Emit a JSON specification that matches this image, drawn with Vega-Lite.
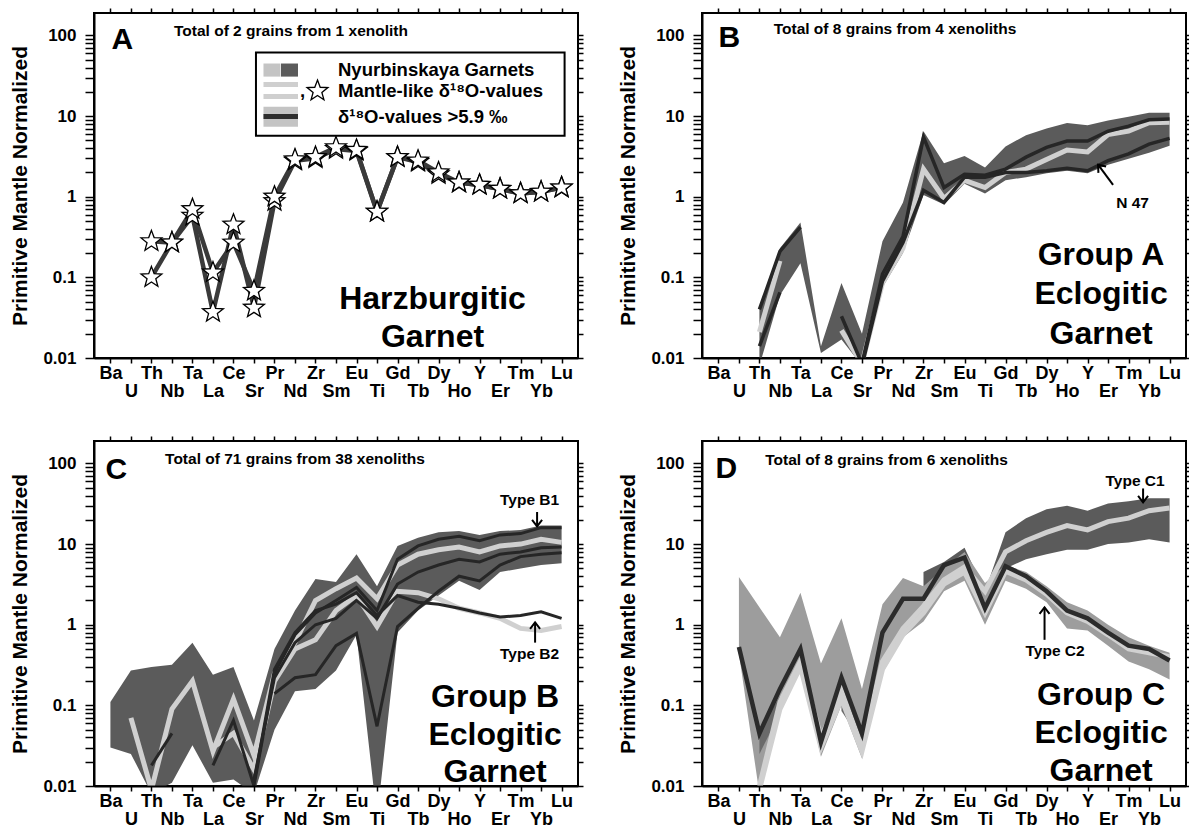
{
"$schema": "https://vega.github.io/schema/vega-lite/v6.json",
"padding": {"left": 8, "top": 6, "right": 0, "bottom": 0},
"config": {
 "font": "Liberation Sans",
 "view": {"stroke": "#000", "strokeWidth": 2},
 "axis": {"labelFont": "Liberation Sans", "labelFontWeight": "bold", "labelFontSize": 17, "labelColor": "#000", "titleFont": "Liberation Sans", "titleFontWeight": "bold", "titleFontSize": 21, "titleColor": "#000", "domainColor": "#000", "domainWidth": 2, "tickColor": "#000", "tickWidth": 1.5, "grid": false},
 "text": {"font": "Liberation Sans", "fontWeight": "bold", "color": "#000"}
},
"datasets": {
 "A_lines": [
  {"g":"A1","el":"Th","v":0.1},{"g":"A1","el":"Nb","v":0.27},{"g":"A1","el":"Ta","v":0.58},{"g":"A1","el":"La","v":0.037},{"g":"A1","el":"Ce","v":0.45},{"g":"A1","el":"Sr","v":0.042},{"g":"A1","el":"Pr","v":0.88},{"g":"A1","el":"Nd","v":2.8},{"g":"A1","el":"Zr","v":3.0},{"g":"A1","el":"Sm","v":3.9},{"g":"A1","el":"Eu","v":3.7},{"g":"A1","el":"Ti","v":0.65},{"g":"A1","el":"Gd","v":3.1},{"g":"A1","el":"Tb","v":2.7},{"g":"A1","el":"Dy","v":1.9},{"g":"A1","el":"Ho","v":1.5},{"g":"A1","el":"Y","v":1.4},{"g":"A1","el":"Er","v":1.25},{"g":"A1","el":"Tm","v":1.1},{"g":"A1","el":"Yb","v":1.15},{"g":"A1","el":"Lu","v":1.3},
  {"g":"A2","el":"Th","v":0.28},{"g":"A2","el":"Nb","v":0.27},{"g":"A2","el":"Ta","v":0.7},{"g":"A2","el":"La","v":0.115},{"g":"A2","el":"Ce","v":0.27},{"g":"A2","el":"Sr","v":0.068},{"g":"A2","el":"Pr","v":1.0},{"g":"A2","el":"Nd","v":2.9},{"g":"A2","el":"Zr","v":3.1},{"g":"A2","el":"Sm","v":4.1},{"g":"A2","el":"Eu","v":3.8},{"g":"A2","el":"Ti","v":0.65},{"g":"A2","el":"Gd","v":3.1},{"g":"A2","el":"Tb","v":2.8},{"g":"A2","el":"Dy","v":2.0},{"g":"A2","el":"Ho","v":1.5},{"g":"A2","el":"Y","v":1.4},{"g":"A2","el":"Er","v":1.25},{"g":"A2","el":"Tm","v":1.1},{"g":"A2","el":"Yb","v":1.15},{"g":"A2","el":"Lu","v":1.3}
 ],
 "A_leg": [
  {"k":"box","el":"Sr","el2":"Lu","v":61.5,"v2":5.7},
  {"k":"sqL","el":"Pr","el2":"Pr","v":44.9,"v2":30.9},
  {"k":"sqD","el":"Nd","el2":"Nd","v":44.9,"v2":30.9},
  {"k":"ln","el":"Pr","el2":"Nd","v":24.6},
  {"k":"ln","el":"Pr","el2":"Nd","v":17.5},
  {"k":"band","el":"Pr","el2":"Nd","v":13.1,"v2":7.4},
  {"k":"lnD","el":"Pr","el2":"Nd","v":9.86},
  {"k":"star","el":"Zr","v":20.5}
 ],
 "A_ann": [
  {"k":"letter","el":"Ba","v":87,"t":"A"},
  {"k":"title","el":"Nd","v":115,"t":"Total of 2 grains from 1 xenolith"},
  {"k":"group","el":"Dy","v":0.0545,"t":"Harzburgitic"},
  {"k":"group","el":"Dy","v":0.0184,"t":"Garnet"},
  {"k":"leg","el":"Sm","v":37.8,"t":"Nyurbinskaya Garnets"},
  {"k":"leg","el":"Sm","v":20.5,"t":"Mantle-like δ¹⁸O-values"},
  {"k":"leg","el":"Sm","v":9.7,"t":"δ¹⁸O-values >5.9 ‰"},
  {"k":"comma","el":"Zr","v":20.5,"t":","}
 ],
 "B_bands": [
  {"g":"env","el":"Th","lo":0.008,"v":0.042},{"g":"env","el":"Nb","lo":0.06,"v":0.23},{"g":"env","el":"Ta","lo":0.15,"v":0.48},{"g":"env","el":"La","lo":0.0115,"v":0.014},{"g":"env","el":"Ce","lo":0.017,"v":0.085},{"g":"env","el":"Sr","lo":0.008,"v":0.02},{"g":"env","el":"Pr","lo":0.075,"v":0.28},{"g":"env","el":"Nd","lo":0.2,"v":0.85},{"g":"env","el":"Zr","lo":1.05,"v":6.5},{"g":"env","el":"Sm","lo":0.8,"v":2.6},{"g":"env","el":"Eu","lo":1.45,"v":3.2},{"g":"env","el":"Ti","lo":1.1,"v":2.3},{"g":"env","el":"Gd","lo":1.6,"v":4.2},{"g":"env","el":"Tb","lo":1.75,"v":5.8},{"g":"env","el":"Dy","lo":1.95,"v":7.0},{"g":"env","el":"Ho","lo":2.1,"v":8.2},{"g":"env","el":"Y","lo":1.95,"v":7.7},{"g":"env","el":"Er","lo":2.5,"v":8.8},{"g":"env","el":"Tm","lo":2.95,"v":9.8},{"g":"env","el":"Yb","lo":3.5,"v":11},{"g":"env","el":"Lu","lo":4.3,"v":11}
 ],
 "B_lines": [
  {"g":"m1a","o":"mantle","el":"Th","v":0.021},{"g":"m1a","o":"mantle","el":"Nb","v":0.16},
  {"g":"m1b","o":"mantle","el":"Ce","v":0.022},{"g":"m1b","o":"mantle","el":"Sr","v":0.0085},{"g":"m1b","o":"mantle","el":"Pr","v":0.085},{"g":"m1b","o":"mantle","el":"Nd","v":0.23},{"g":"m1b","o":"mantle","el":"Zr","v":2.2},{"g":"m1b","o":"mantle","el":"Sm","v":0.95},{"g":"m1b","o":"mantle","el":"Eu","v":1.6},{"g":"m1b","o":"mantle","el":"Ti","v":1.3},{"g":"m1b","o":"mantle","el":"Gd","v":2.0},{"g":"m1b","o":"mantle","el":"Tb","v":2.2},{"g":"m1b","o":"mantle","el":"Dy","v":2.9},{"g":"m1b","o":"mantle","el":"Ho","v":3.8},{"g":"m1b","o":"mantle","el":"Y","v":3.6},{"g":"m1b","o":"mantle","el":"Er","v":5.9},{"g":"m1b","o":"mantle","el":"Tm","v":6.5},{"g":"m1b","o":"mantle","el":"Yb","v":8.3},{"g":"m1b","o":"mantle","el":"Lu","v":8.4},
  {"g":"e1a","o":"high","el":"Th","v":0.04},{"g":"e1a","o":"high","el":"Nb","v":0.21},{"g":"e1a","o":"high","el":"Ta","v":0.42},
  {"g":"e1b","o":"high","el":"Ce","v":0.033},{"g":"e1b","o":"high","el":"Sr","v":0.0085},{"g":"e1b","o":"high","el":"Pr","v":0.11},{"g":"e1b","o":"high","el":"Nd","v":0.32},{"g":"e1b","o":"high","el":"Zr","v":5.5},{"g":"e1b","o":"high","el":"Sm","v":1.3},{"g":"e1b","o":"high","el":"Eu","v":1.9},{"g":"e1b","o":"high","el":"Ti","v":1.85},{"g":"e1b","o":"high","el":"Gd","v":2.2},{"g":"e1b","o":"high","el":"Tb","v":3.1},{"g":"e1b","o":"high","el":"Dy","v":4.1},{"g":"e1b","o":"high","el":"Ho","v":4.9},{"g":"e1b","o":"high","el":"Y","v":4.9},{"g":"e1b","o":"high","el":"Er","v":6.5},{"g":"e1b","o":"high","el":"Tm","v":7.5},{"g":"e1b","o":"high","el":"Yb","v":9.0},{"g":"e1b","o":"high","el":"Lu","v":9.2},
  {"g":"n47a","o":"high","el":"Th","v":0.014},{"g":"n47a","o":"high","el":"Nb","v":0.065},
  {"g":"n47b","o":"high","el":"Sr","v":0.008},{"g":"n47b","o":"high","el":"Pr","v":0.09},{"g":"n47b","o":"high","el":"Nd","v":0.27},{"g":"n47b","o":"high","el":"Zr","v":1.2},{"g":"n47b","o":"high","el":"Sm","v":0.85},{"g":"n47b","o":"high","el":"Eu","v":1.75},{"g":"n47b","o":"high","el":"Ti","v":1.75},{"g":"n47b","o":"high","el":"Gd","v":2.0},{"g":"n47b","o":"high","el":"Tb","v":2.0},{"g":"n47b","o":"high","el":"Dy","v":2.1},{"g":"n47b","o":"high","el":"Ho","v":2.25},{"g":"n47b","o":"high","el":"Y","v":2.1},{"g":"n47b","o":"high","el":"Er","v":2.8},{"g":"n47b","o":"high","el":"Tm","v":3.4},{"g":"n47b","o":"high","el":"Yb","v":4.5},{"g":"n47b","o":"high","el":"Lu","v":5.3}
 ],
 "B_ann": [
  {"k":"letter","el":"Ba","v":94,"t":"B"},
  {"k":"title","el":"Nd","v":119,"t":"Total of 8 grains from 4 xenoliths"},
  {"k":"group","el":"Er","v":0.19,"t":"Group A"},
  {"k":"group","el":"Er","v":0.0623,"t":"Eclogitic"},
  {"k":"group","el":"Er","v":0.0199,"t":"Garnet"},
  {"k":"label","el":"Tm","v":0.84,"t":"N 47"},
  {"k":"shaft","el":"Er","el2":"Er","v":1.4,"v2":2.5},
  {"k":"head","el":"Er","v":2.5}
 ],
 "C_bands": [
  {"g":"env","el":"Ba","lo":0.03,"v":0.11},{"g":"env","el":"U","lo":0.025,"v":0.27},{"g":"env","el":"Th","lo":0.008,"v":0.3},{"g":"env","el":"Nb","lo":0.011,"v":0.32},{"g":"env","el":"Ta","lo":0.032,"v":0.6},{"g":"env","el":"La","lo":0.011,"v":0.24},{"g":"env","el":"Ce","lo":0.012,"v":0.3},{"g":"env","el":"Sr","lo":0.008,"v":0.065},{"g":"env","el":"Pr","lo":0.05,"v":0.5},{"g":"env","el":"Nd","lo":0.15,"v":1.5},{"g":"env","el":"Zr","lo":0.16,"v":3.7},{"g":"env","el":"Sm","lo":0.27,"v":3.4},{"g":"env","el":"Eu","lo":0.75,"v":7.5},{"g":"env","el":"Ti","lo":0.004,"v":3.0},{"g":"env","el":"Gd","lo":0.8,"v":9.5},{"g":"env","el":"Tb","lo":1.5,"v":12},{"g":"env","el":"Dy","lo":2.3,"v":14},{"g":"env","el":"Ho","lo":3.5,"v":14.5},{"g":"env","el":"Y","lo":2.7,"v":13},{"g":"env","el":"Er","lo":4.5,"v":14.5},{"g":"env","el":"Tm","lo":5.0,"v":15},{"g":"env","el":"Yb","lo":5.5,"v":17},{"g":"env","el":"Lu","lo":5.8,"v":17}
 ],
 "C_lines": [
  {"g":"m1","o":"mantle","el":"U","v":0.07},{"g":"m1","o":"mantle","el":"Th","v":0.009},{"g":"m1","o":"mantle","el":"Nb","v":0.09},{"g":"m1","o":"mantle","el":"Ta","v":0.2},{"g":"m1","o":"mantle","el":"La","v":0.027},{"g":"m1","o":"mantle","el":"Ce","v":0.12},{"g":"m1","o":"mantle","el":"Sr","v":0.024},{"g":"m1","o":"mantle","el":"Pr","v":0.25},{"g":"m1","o":"mantle","el":"Nd","v":0.6},{"g":"m1","o":"mantle","el":"Zr","v":2.0},{"g":"m1","o":"mantle","el":"Sm","v":2.8},{"g":"m1","o":"mantle","el":"Eu","v":3.8},{"g":"m1","o":"mantle","el":"Ti","v":2.1},{"g":"m1","o":"mantle","el":"Gd","v":5.5},{"g":"m1","o":"mantle","el":"Tb","v":7.5},{"g":"m1","o":"mantle","el":"Dy","v":8.5},{"g":"m1","o":"mantle","el":"Ho","v":9.2},{"g":"m1","o":"mantle","el":"Y","v":8.0},{"g":"m1","o":"mantle","el":"Er","v":9.5},{"g":"m1","o":"mantle","el":"Tm","v":10},{"g":"m1","o":"mantle","el":"Yb","v":11.5},{"g":"m1","o":"mantle","el":"Lu","v":10.5},
  {"g":"m2","o":"mantle","el":"La","v":0.03},{"g":"m2","o":"mantle","el":"Ce","v":0.045},{"g":"m2","o":"mantle","el":"Sr","v":0.016},{"g":"m2","o":"mantle","el":"Pr","v":0.2},{"g":"m2","o":"mantle","el":"Nd","v":0.5},{"g":"m2","o":"mantle","el":"Zr","v":0.65},{"g":"m2","o":"mantle","el":"Sm","v":1.5},{"g":"m2","o":"mantle","el":"Eu","v":2.3},{"g":"m2","o":"mantle","el":"Ti","v":0.95},{"g":"m2","o":"mantle","el":"Gd","v":2.6},{"g":"m2","o":"mantle","el":"Tb","v":2.5},{"g":"m2","o":"mantle","el":"Dy","v":2.1},{"g":"m2","o":"mantle","el":"Ho","v":1.6},{"g":"m2","o":"mantle","el":"Y","v":1.4},{"g":"m2","o":"mantle","el":"Er","v":1.2},{"g":"m2","o":"mantle","el":"Tm","v":0.9},{"g":"m2","o":"mantle","el":"Yb","v":0.85},{"g":"m2","o":"mantle","el":"Lu","v":0.95},
  {"g":"e1","o":"high","el":"La","v":0.018},{"g":"e1","o":"high","el":"Ce","v":0.065},{"g":"e1","o":"high","el":"Sr","v":0.01},{"g":"e1","o":"high","el":"Pr","v":0.25},{"g":"e1","o":"high","el":"Nd","v":0.75},{"g":"e1","o":"high","el":"Zr","v":1.4},{"g":"e1","o":"high","el":"Sm","v":2.0},{"g":"e1","o":"high","el":"Eu","v":2.9},{"g":"e1","o":"high","el":"Ti","v":1.5},{"g":"e1","o":"high","el":"Gd","v":6.5},{"g":"e1","o":"high","el":"Tb","v":9.5},{"g":"e1","o":"high","el":"Dy","v":11.5},{"g":"e1","o":"high","el":"Ho","v":12.5},{"g":"e1","o":"high","el":"Y","v":11},{"g":"e1","o":"high","el":"Er","v":13},{"g":"e1","o":"high","el":"Tm","v":13.5},{"g":"e1","o":"high","el":"Yb","v":16},{"g":"e1","o":"high","el":"Lu","v":16},
  {"g":"e2","o":"high","el":"Sr","v":0.012},{"g":"e2","o":"high","el":"Pr","v":0.22},{"g":"e2","o":"high","el":"Nd","v":0.6},{"g":"e2","o":"high","el":"Zr","v":1.0},{"g":"e2","o":"high","el":"Sm","v":1.2},{"g":"e2","o":"high","el":"Eu","v":2.0},{"g":"e2","o":"high","el":"Ti","v":1.2},{"g":"e2","o":"high","el":"Gd","v":3.2},{"g":"e2","o":"high","el":"Tb","v":4.5},{"g":"e2","o":"high","el":"Dy","v":5.5},{"g":"e2","o":"high","el":"Ho","v":6.5},{"g":"e2","o":"high","el":"Y","v":6.0},{"g":"e2","o":"high","el":"Er","v":7.5},{"g":"e2","o":"high","el":"Tm","v":8.0},{"g":"e2","o":"high","el":"Yb","v":9.0},{"g":"e2","o":"high","el":"Lu","v":9.2},
  {"g":"e3","o":"high","el":"Pr","v":0.14},{"g":"e3","o":"high","el":"Nd","v":0.22},{"g":"e3","o":"high","el":"Zr","v":0.24},{"g":"e3","o":"high","el":"Sm","v":0.55},{"g":"e3","o":"high","el":"Eu","v":0.78},{"g":"e3","o":"high","el":"Ti","v":0.055},{"g":"e3","o":"high","el":"Gd","v":0.95},{"g":"e3","o":"high","el":"Tb","v":1.6},{"g":"e3","o":"high","el":"Dy","v":2.6},{"g":"e3","o":"high","el":"Ho","v":4.0},{"g":"e3","o":"high","el":"Y","v":3.5},{"g":"e3","o":"high","el":"Er","v":5.5},{"g":"e3","o":"high","el":"Tm","v":7.0},{"g":"e3","o":"high","el":"Yb","v":7.5},{"g":"e3","o":"high","el":"Lu","v":7.8},
  {"g":"e4","o":"high","el":"Sr","v":0.011},{"g":"e4","o":"high","el":"Pr","v":0.28},{"g":"e4","o":"high","el":"Nd","v":0.8},{"g":"e4","o":"high","el":"Zr","v":1.5},{"g":"e4","o":"high","el":"Sm","v":1.8},{"g":"e4","o":"high","el":"Eu","v":2.5},{"g":"e4","o":"high","el":"Ti","v":1.3},{"g":"e4","o":"high","el":"Gd","v":2.3},{"g":"e4","o":"high","el":"Tb","v":1.9},{"g":"e4","o":"high","el":"Dy","v":1.8},{"g":"e4","o":"high","el":"Ho","v":1.6},{"g":"e4","o":"high","el":"Y","v":1.4},{"g":"e4","o":"high","el":"Er","v":1.25},{"g":"e4","o":"high","el":"Tm","v":1.3},{"g":"e4","o":"high","el":"Yb","v":1.45},{"g":"e4","o":"high","el":"Lu","v":1.2},
  {"g":"e5","o":"high","el":"Th","v":0.018},{"g":"e5","o":"high","el":"Nb","v":0.045}
 ],
 "C_ann": [
  {"k":"letter","el":"Ba","v":82,"t":"C"},
  {"k":"title","el":"Nd","v":115,"t":"Total of 71 grains from 38 xenoliths"},
  {"k":"group","el":"Er","v":0.126,"t":"Group B"},
  {"k":"group","el":"Er","v":0.043,"t":"Eclogitic"},
  {"k":"group","el":"Er","v":0.0148,"t":"Garnet"},
  {"k":"label","el":"Tm","v":34.8,"t":"Type B1"},
  {"k":"label","el":"Tm","v":0.43,"t":"Type B2"},
  {"k":"shaftD","el":"Yb","v":25,"v2":16.6},
  {"k":"headD","el":"Yb","v":16.6},
  {"k":"shaftU","el":"Yb","v":0.6,"v2":1.07},
  {"k":"headU","el":"Yb","v":1.07}
 ],
 "D_bands": [
  {"g":"C1","el":"Zr","lo":1.3,"v":4.5},{"g":"C1","el":"Sm","lo":3.0,"v":6.0},{"g":"C1","el":"Eu","lo":4.0,"v":9.0},{"g":"C1","el":"Ti","lo":1.5,"v":2.6},{"g":"C1","el":"Gd","lo":5.0,"v":14},{"g":"C1","el":"Tb","lo":6.5,"v":21},{"g":"C1","el":"Dy","lo":7.5,"v":27},{"g":"C1","el":"Ho","lo":8.5,"v":30},{"g":"C1","el":"Y","lo":8.5,"v":26},{"g":"C1","el":"Er","lo":10,"v":32},{"g":"C1","el":"Tm","lo":10.5,"v":34},{"g":"C1","el":"Yb","lo":11.5,"v":37},{"g":"C1","el":"Lu","lo":10.5,"v":37},
  {"g":"C2","el":"U","lo":0.44,"v":3.9},{"g":"C2","el":"Th","lo":0.008,"v":1.65},{"g":"C2","el":"Nb","lo":0.08,"v":0.7},{"g":"C2","el":"Ta","lo":0.3,"v":2.5},{"g":"C2","el":"La","lo":0.023,"v":0.33},{"g":"C2","el":"Ce","lo":0.1,"v":1.2},{"g":"C2","el":"Sr","lo":0.022,"v":0.16},{"g":"C2","el":"Pr","lo":0.25,"v":1.8},{"g":"C2","el":"Nd","lo":0.7,"v":3.8},{"g":"C2","el":"Zr","lo":1.1,"v":3.0},{"g":"C2","el":"Sm","lo":2.6,"v":5.0},{"g":"C2","el":"Eu","lo":3.5,"v":8.0},{"g":"C2","el":"Ti","lo":1.0,"v":3.3},{"g":"C2","el":"Gd","lo":3.5,"v":5.5},{"g":"C2","el":"Tb","lo":2.8,"v":4.5},{"g":"C2","el":"Dy","lo":1.9,"v":3.0},{"g":"C2","el":"Ho","lo":0.9,"v":1.9},{"g":"C2","el":"Y","lo":0.85,"v":1.5},{"g":"C2","el":"Er","lo":0.55,"v":1.0},{"g":"C2","el":"Tm","lo":0.35,"v":0.7},{"g":"C2","el":"Yb","lo":0.28,"v":0.55},{"g":"C2","el":"Lu","lo":0.21,"v":0.45},
  {"g":"C1a","el":"Th","lo":0.025,"v":0.05},{"g":"C1a","el":"Nb","lo":0.08,"v":0.13},
  {"g":"C1b","el":"Ce","lo":0.085,"v":0.13},{"g":"C1b","el":"Sr","lo":0.035,"v":0.055}
 ],
 "D_lines": [
  {"g":"m1","o":"mantle","el":"Th","v":0.01},{"g":"m1","o":"mantle","el":"Nb","v":0.11},{"g":"m1","o":"mantle","el":"Ta","v":0.35},{"g":"m1","o":"mantle","el":"La","v":0.04},{"g":"m1","o":"mantle","el":"Ce","v":0.15},{"g":"m1","o":"mantle","el":"Sr","v":0.03},{"g":"m1","o":"mantle","el":"Pr","v":0.35},{"g":"m1","o":"mantle","el":"Nd","v":0.9},{"g":"m1","o":"mantle","el":"Zr","v":1.7},{"g":"m1","o":"mantle","el":"Sm","v":3.6},{"g":"m1","o":"mantle","el":"Eu","v":5.2},{"g":"m1","o":"mantle","el":"Ti","v":2.6},{"g":"m1","o":"mantle","el":"Gd","v":8.0},{"g":"m1","o":"mantle","el":"Tb","v":11},{"g":"m1","o":"mantle","el":"Dy","v":14},{"g":"m1","o":"mantle","el":"Ho","v":17},{"g":"m1","o":"mantle","el":"Y","v":15},{"g":"m1","o":"mantle","el":"Er","v":19},{"g":"m1","o":"mantle","el":"Tm","v":21},{"g":"m1","o":"mantle","el":"Yb","v":26},{"g":"m1","o":"mantle","el":"Lu","v":28},
  {"g":"m2","o":"mantle","el":"Th","v":0.009},{"g":"m2","o":"mantle","el":"Nb","v":0.09},{"g":"m2","o":"mantle","el":"Ta","v":0.3},{"g":"m2","o":"mantle","el":"La","v":0.03},{"g":"m2","o":"mantle","el":"Ce","v":0.12},{"g":"m2","o":"mantle","el":"Sr","v":0.027},{"g":"m2","o":"mantle","el":"Pr","v":0.28},{"g":"m2","o":"mantle","el":"Nd","v":0.75},{"g":"m2","o":"mantle","el":"Zr","v":1.4},{"g":"m2","o":"mantle","el":"Sm","v":3.2},{"g":"m2","o":"mantle","el":"Eu","v":4.5},{"g":"m2","o":"mantle","el":"Ti","v":1.4},{"g":"m2","o":"mantle","el":"Gd","v":4.6},{"g":"m2","o":"mantle","el":"Tb","v":3.6},{"g":"m2","o":"mantle","el":"Dy","v":2.4},{"g":"m2","o":"mantle","el":"Ho","v":1.4},{"g":"m2","o":"mantle","el":"Y","v":1.1},{"g":"m2","o":"mantle","el":"Er","v":0.75},{"g":"m2","o":"mantle","el":"Tm","v":0.5},{"g":"m2","o":"mantle","el":"Yb","v":0.45},{"g":"m2","o":"mantle","el":"Lu","v":0.4},
  {"g":"e1","o":"high","el":"U","v":0.53},{"g":"e1","o":"high","el":"Th","v":0.045},{"g":"e1","o":"high","el":"Nb","v":0.16},{"g":"e1","o":"high","el":"Ta","v":0.5},{"g":"e1","o":"high","el":"La","v":0.035},{"g":"e1","o":"high","el":"Ce","v":0.22},{"g":"e1","o":"high","el":"Sr","v":0.045},{"g":"e1","o":"high","el":"Pr","v":0.8},{"g":"e1","o":"high","el":"Nd","v":2.1},{"g":"e1","o":"high","el":"Zr","v":2.1},{"g":"e1","o":"high","el":"Sm","v":5.5},{"g":"e1","o":"high","el":"Eu","v":6.8},{"g":"e1","o":"high","el":"Ti","v":1.6},{"g":"e1","o":"high","el":"Gd","v":5.3},{"g":"e1","o":"high","el":"Tb","v":4.0},{"g":"e1","o":"high","el":"Dy","v":2.6},{"g":"e1","o":"high","el":"Ho","v":1.5},{"g":"e1","o":"high","el":"Y","v":1.2},{"g":"e1","o":"high","el":"Er","v":0.8},{"g":"e1","o":"high","el":"Tm","v":0.55},{"g":"e1","o":"high","el":"Yb","v":0.5},{"g":"e1","o":"high","el":"Lu","v":0.36}
 ],
 "D_ann": [
  {"k":"letter","el":"Ba","v":86,"t":"D"},
  {"k":"title","el":"Pr","v":111,"t":"Total of 8 grains from 6 xenoliths"},
  {"k":"group","el":"Er","v":0.135,"t":"Group C"},
  {"k":"group","el":"Er","v":0.046,"t":"Eclogitic"},
  {"k":"group","el":"Er","v":0.0155,"t":"Garnet"},
  {"k":"labelC1","el":"Yb","v":61,"t":"Type C1"},
  {"k":"labelC2","el":"Ho","v":0.47,"t":"Type C2"},
  {"k":"shaftD","el":"Yb","v":49,"v2":33},
  {"k":"headD","el":"Yb","v":33},
  {"k":"shaftU","el":"Dy","v":0.65,"v2":1.64},
  {"k":"headU","el":"Dy","v":1.64}
 ]
},
"columns": 2,
"spacing": {"row": 83, "column": 124},
"bounds": "flush",
"concat": [
 {
  "width": 484, "height": 345,
  "encoding": {
   "x": {"field": "el", "type": "ordinal", "scale": {"type": "point", "domain": ["Ba","U","Th","Nb","Ta","La","Ce","Sr","Pr","Nd","Zr","Sm","Eu","Ti","Gd","Tb","Dy","Ho","Y","Er","Tm","Yb","Lu"], "padding": 0.8}, "axis": null},
   "y": {"field": "v", "type": "quantitative", "scale": {"type": "log", "domain": [0.01, 190], "nice": false}, "axis": null}
  },
  "layer": [
   {"data": {"name": "A_lines"}, "mark": {"type": "line", "color": "#3a3a3a", "strokeWidth": 4.5, "clip": true},
    "encoding": {
     "x": {"field": "el", "type": "ordinal", "scale": {"type": "point", "domain": ["Ba","U","Th","Nb","Ta","La","Ce","Sr","Pr","Nd","Zr","Sm","Eu","Ti","Gd","Tb","Dy","Ho","Y","Er","Tm","Yb","Lu"], "padding": 0.8}, "axis": {"orient": "bottom", "title": null, "labelAngle": 0, "labelFontSize": 18, "labelExpr": "indexof(['U','Nb','La','Sr','Nd','Sm','Ti','Tb','Ho','Er','Yb'], datum.value) >= 0 ? ['', datum.value] : datum.value", "labelLineHeight": 18, "labelPadding": 1, "tickSize": 5, "labelOverlap": false, "zindex": 1}},
     "y": {"field": "v", "type": "quantitative", "scale": {"type": "log", "domain": [0.01, 190], "nice": false}, "axis": {"orient": "left", "title": "Primitive Mantle Normalized", "values": [0.01,0.02,0.03,0.04,0.05,0.06,0.07,0.08,0.09,0.1,0.2,0.3,0.4,0.5,0.6,0.7,0.8,0.9,1,2,3,4,5,6,7,8,9,10,20,30,40,50,60,70,80,90,100], "labelExpr": "indexof([0.01,0.1,1,10,100], datum.value) >= 0 ? '' + datum.value : ''", "tickSize": 9, "labelPadding": 9, "labelOverlap": false, "labelFlush": false, "titlePadding": 12, "encode": {"ticks": {"update": {"x2": {"signal": "indexof([0.01,0.1,1,10,100], datum.value) >= 0 ? -9 : -6"}}}}, "zindex": 1}},
     "detail": {"field": "g"}, "order": {"value": null}}},
   {"data": {"name": "A_lines"}, "mark": {"type": "point", "shape": "M0,-1L0.247,-0.34L0.951,-0.309L0.4,0.13L0.588,0.809L0,0.42L-0.588,0.809L-0.4,0.13L-0.951,-0.309L-0.247,-0.34Z", "size": 480, "filled": true, "fill": "#fff", "stroke": "#000", "strokeWidth": 1.3, "opacity": 1},
    "encoding": {
     "x": {"field": "el", "type": "ordinal", "scale": {"type": "point", "domain": ["Ba","U","Th","Nb","Ta","La","Ce","Sr","Pr","Nd","Zr","Sm","Eu","Ti","Gd","Tb","Dy","Ho","Y","Er","Tm","Yb","Lu"], "padding": 0.8}, "axis": {"orient": "top", "title": null, "labels": false, "domain": false, "tickSize": 5, "encode": {"ticks": {"update": {"y2": {"value": 5}}}}, "zindex": 1}},
     "y": {"field": "v", "type": "quantitative", "scale": {"type": "log", "domain": [0.01, 190], "nice": false}, "axis": {"orient": "right", "title": null, "labels": false, "domain": false, "values": [0.01,0.02,0.03,0.04,0.05,0.06,0.07,0.08,0.09,0.1,0.2,0.3,0.4,0.5,0.6,0.7,0.8,0.9,1,2,3,4,5,6,7,8,9,10,20,30,40,50,60,70,80,90,100], "encode": {"ticks": {"update": {"x2": {"signal": "indexof([0.01,0.1,1,10,100], datum.value) >= 0 ? -7 : -4"}}}}, "zindex": 1}}}},
   {"data": {"name": "A_leg"}, "transform": [{"filter": "datum.k == 'box'"}], "mark": {"type": "rect", "fill": "#fff", "stroke": "#000", "strokeWidth": 2, "xOffset": 2, "x2Offset": 3}, "encoding": {"x2": {"field": "el2"}, "y2": {"field": "v2"}}},
   {"data": {"name": "A_leg"}, "transform": [{"filter": "datum.k == 'sqL'"}], "mark": {"type": "rect", "fill": "#c4c4c4", "xOffset": -11, "x2Offset": 6}, "encoding": {"x2": {"field": "el2"}, "y2": {"field": "v2"}}},
   {"data": {"name": "A_leg"}, "transform": [{"filter": "datum.k == 'sqD'"}], "mark": {"type": "rect", "fill": "#5b5b5b", "xOffset": -14, "x2Offset": 3}, "encoding": {"x2": {"field": "el2"}, "y2": {"field": "v2"}}},
   {"data": {"name": "A_leg"}, "transform": [{"filter": "datum.k == 'band'"}], "mark": {"type": "rect", "fill": "#c4c4c4", "xOffset": -11, "x2Offset": 3}, "encoding": {"x2": {"field": "el2"}, "y2": {"field": "v2"}}},
   {"data": {"name": "A_leg"}, "transform": [{"filter": "datum.k == 'ln'"}], "mark": {"type": "rule", "color": "#cfcfcf", "strokeWidth": 5, "xOffset": -11, "x2Offset": 3}, "encoding": {"x2": {"field": "el2"}}},
   {"data": {"name": "A_leg"}, "transform": [{"filter": "datum.k == 'lnD'"}], "mark": {"type": "rule", "color": "#2e2e2e", "strokeWidth": 5, "xOffset": -11, "x2Offset": 3}, "encoding": {"x2": {"field": "el2"}}},
   {"data": {"name": "A_leg"}, "transform": [{"filter": "datum.k == 'star'"}], "mark": {"type": "point", "shape": "M0,-1L0.247,-0.34L0.951,-0.309L0.4,0.13L0.588,0.809L0,0.42L-0.588,0.809L-0.4,0.13L-0.951,-0.309L-0.247,-0.34Z", "size": 480, "filled": true, "fill": "#fff", "stroke": "#000", "strokeWidth": 1.3, "opacity": 1, "xOffset": 2}, "encoding": {}},
   {"data": {"name": "A_ann"}, "transform": [{"filter": "datum.k == 'letter'"}], "mark": {"type": "text", "fontSize": 30, "dx": 12, "align": "center", "baseline": "middle"}, "encoding": {"text": {"field": "t"}}},
   {"data": {"name": "A_ann"}, "transform": [{"filter": "datum.k == 'title'"}], "mark": {"type": "text", "fontSize": 15.5, "dx": -4, "align": "center", "baseline": "middle"}, "encoding": {"text": {"field": "t"}}},
   {"data": {"name": "A_ann"}, "transform": [{"filter": "datum.k == 'group'"}], "mark": {"type": "text", "fontSize": 32, "dx": -6, "align": "center", "baseline": "middle"}, "encoding": {"text": {"field": "t"}}},
   {"data": {"name": "A_ann"}, "transform": [{"filter": "datum.k == 'leg'"}], "mark": {"type": "text", "fontSize": 18.5, "dx": 2, "align": "left", "baseline": "middle"}, "encoding": {"text": {"field": "t"}}},
   {"data": {"name": "A_ann"}, "transform": [{"filter": "datum.k == 'comma'"}], "mark": {"type": "text", "fontSize": 18.5, "dx": -13, "align": "center", "baseline": "middle"}, "encoding": {"text": {"field": "t"}}}
  ],
  "resolve": {"axis": {"x": "independent", "y": "independent"}}
 },
 {
  "width": 484, "height": 345,
  "encoding": {
   "x": {"field": "el", "type": "ordinal", "scale": {"type": "point", "domain": ["Ba","U","Th","Nb","Ta","La","Ce","Sr","Pr","Nd","Zr","Sm","Eu","Ti","Gd","Tb","Dy","Ho","Y","Er","Tm","Yb","Lu"], "padding": 0.8}, "axis": null},
   "y": {"field": "v", "type": "quantitative", "scale": {"type": "log", "domain": [0.01, 190], "nice": false}, "axis": null}
  },
  "layer": [
   {"data": {"name": "B_bands"}, "mark": {"type": "area", "color": "#5b5b5b", "clip": true, "opacity": 1},
    "encoding": {
     "x": {"field": "el", "type": "ordinal", "scale": {"type": "point", "domain": ["Ba","U","Th","Nb","Ta","La","Ce","Sr","Pr","Nd","Zr","Sm","Eu","Ti","Gd","Tb","Dy","Ho","Y","Er","Tm","Yb","Lu"], "padding": 0.8}, "axis": {"orient": "bottom", "title": null, "labelAngle": 0, "labelFontSize": 18, "labelExpr": "indexof(['U','Nb','La','Sr','Nd','Sm','Ti','Tb','Ho','Er','Yb'], datum.value) >= 0 ? ['', datum.value] : datum.value", "labelLineHeight": 18, "labelPadding": 1, "tickSize": 5, "labelOverlap": false, "zindex": 1}},
     "y": {"field": "v", "type": "quantitative", "scale": {"type": "log", "domain": [0.01, 190], "nice": false}, "axis": {"orient": "left", "title": "Primitive Mantle Normalized", "values": [0.01,0.02,0.03,0.04,0.05,0.06,0.07,0.08,0.09,0.1,0.2,0.3,0.4,0.5,0.6,0.7,0.8,0.9,1,2,3,4,5,6,7,8,9,10,20,30,40,50,60,70,80,90,100], "labelExpr": "indexof([0.01,0.1,1,10,100], datum.value) >= 0 ? '' + datum.value : ''", "tickSize": 9, "labelPadding": 9, "labelOverlap": false, "labelFlush": false, "titlePadding": 12, "encode": {"ticks": {"update": {"x2": {"signal": "indexof([0.01,0.1,1,10,100], datum.value) >= 0 ? -9 : -6"}}}}, "zindex": 1}},
     "y2": {"field": "lo"}, "detail": {"field": "g"}, "order": {"value": null}}},
   {"data": {"name": "B_lines"}, "transform": [{"filter": "datum.o == 'mantle'"}], "mark": {"type": "line", "color": "#d0d0d0", "strokeWidth": 5, "clip": true},
    "encoding": {
     "x": {"field": "el", "type": "ordinal", "scale": {"type": "point", "domain": ["Ba","U","Th","Nb","Ta","La","Ce","Sr","Pr","Nd","Zr","Sm","Eu","Ti","Gd","Tb","Dy","Ho","Y","Er","Tm","Yb","Lu"], "padding": 0.8}, "axis": {"orient": "top", "title": null, "labels": false, "domain": false, "tickSize": 5, "encode": {"ticks": {"update": {"y2": {"value": 5}}}}, "zindex": 1}},
     "y": {"field": "v", "type": "quantitative", "scale": {"type": "log", "domain": [0.01, 190], "nice": false}, "axis": {"orient": "right", "title": null, "labels": false, "domain": false, "values": [0.01,0.02,0.03,0.04,0.05,0.06,0.07,0.08,0.09,0.1,0.2,0.3,0.4,0.5,0.6,0.7,0.8,0.9,1,2,3,4,5,6,7,8,9,10,20,30,40,50,60,70,80,90,100], "encode": {"ticks": {"update": {"x2": {"signal": "indexof([0.01,0.1,1,10,100], datum.value) >= 0 ? -7 : -4"}}}}, "zindex": 1}},
     "detail": {"field": "g"}, "order": {"value": null}}},
   {"data": {"name": "B_lines"}, "transform": [{"filter": "datum.o == 'high'"}], "mark": {"type": "line", "color": "#262626", "strokeWidth": 3.5, "clip": true}, "encoding": {"detail": {"field": "g"}, "order": {"value": null}}},
   {"data": {"name": "B_ann"}, "transform": [{"filter": "datum.k == 'letter'"}], "mark": {"type": "text", "fontSize": 30, "dx": 11, "align": "center", "baseline": "middle"}, "encoding": {"text": {"field": "t"}}},
   {"data": {"name": "B_ann"}, "transform": [{"filter": "datum.k == 'title'"}], "mark": {"type": "text", "fontSize": 15.5, "dx": -8, "align": "center", "baseline": "middle"}, "encoding": {"text": {"field": "t"}}},
   {"data": {"name": "B_ann"}, "transform": [{"filter": "datum.k == 'group'"}], "mark": {"type": "text", "fontSize": 32, "dx": -7, "align": "center", "baseline": "middle"}, "encoding": {"text": {"field": "t"}}},
   {"data": {"name": "B_ann"}, "transform": [{"filter": "datum.k == 'label'"}], "mark": {"type": "text", "fontSize": 15.5, "dx": 4, "align": "center", "baseline": "middle"}, "encoding": {"text": {"field": "t"}}},
   {"data": {"name": "B_ann"}, "transform": [{"filter": "datum.k == 'shaft'"}], "mark": {"type": "rule", "color": "#000", "strokeWidth": 2, "xOffset": 5, "x2Offset": -10}, "encoding": {"x2": {"field": "el2"}, "y2": {"field": "v2"}}},
   {"data": {"name": "B_ann"}, "transform": [{"filter": "datum.k == 'head'"}], "mark": {"type": "point", "shape": "M-1,1.3L0,0L1,1.3", "size": 100, "filled": false, "stroke": "#000", "strokeWidth": 2, "opacity": 1, "angle": -40, "xOffset": -10}, "encoding": {}}
  ],
  "resolve": {"axis": {"x": "independent", "y": "independent"}}
 },
 {
  "width": 484, "height": 345,
  "encoding": {
   "x": {"field": "el", "type": "ordinal", "scale": {"type": "point", "domain": ["Ba","U","Th","Nb","Ta","La","Ce","Sr","Pr","Nd","Zr","Sm","Eu","Ti","Gd","Tb","Dy","Ho","Y","Er","Tm","Yb","Lu"], "padding": 0.8}, "axis": null},
   "y": {"field": "v", "type": "quantitative", "scale": {"type": "log", "domain": [0.01, 190], "nice": false}, "axis": null}
  },
  "layer": [
   {"data": {"name": "C_bands"}, "mark": {"type": "area", "color": "#5b5b5b", "clip": true, "opacity": 1},
    "encoding": {
     "x": {"field": "el", "type": "ordinal", "scale": {"type": "point", "domain": ["Ba","U","Th","Nb","Ta","La","Ce","Sr","Pr","Nd","Zr","Sm","Eu","Ti","Gd","Tb","Dy","Ho","Y","Er","Tm","Yb","Lu"], "padding": 0.8}, "axis": {"orient": "bottom", "title": null, "labelAngle": 0, "labelFontSize": 18, "labelExpr": "indexof(['U','Nb','La','Sr','Nd','Sm','Ti','Tb','Ho','Er','Yb'], datum.value) >= 0 ? ['', datum.value] : datum.value", "labelLineHeight": 18, "labelPadding": 1, "tickSize": 5, "labelOverlap": false, "zindex": 1}},
     "y": {"field": "v", "type": "quantitative", "scale": {"type": "log", "domain": [0.01, 190], "nice": false}, "axis": {"orient": "left", "title": "Primitive Mantle Normalized", "values": [0.01,0.02,0.03,0.04,0.05,0.06,0.07,0.08,0.09,0.1,0.2,0.3,0.4,0.5,0.6,0.7,0.8,0.9,1,2,3,4,5,6,7,8,9,10,20,30,40,50,60,70,80,90,100], "labelExpr": "indexof([0.01,0.1,1,10,100], datum.value) >= 0 ? '' + datum.value : ''", "tickSize": 9, "labelPadding": 9, "labelOverlap": false, "labelFlush": false, "titlePadding": 12, "encode": {"ticks": {"update": {"x2": {"signal": "indexof([0.01,0.1,1,10,100], datum.value) >= 0 ? -9 : -6"}}}}, "zindex": 1}},
     "y2": {"field": "lo"}, "detail": {"field": "g"}, "order": {"value": null}}},
   {"data": {"name": "C_lines"}, "transform": [{"filter": "datum.o == 'mantle'"}], "mark": {"type": "line", "color": "#d0d0d0", "strokeWidth": 5, "clip": true},
    "encoding": {
     "x": {"field": "el", "type": "ordinal", "scale": {"type": "point", "domain": ["Ba","U","Th","Nb","Ta","La","Ce","Sr","Pr","Nd","Zr","Sm","Eu","Ti","Gd","Tb","Dy","Ho","Y","Er","Tm","Yb","Lu"], "padding": 0.8}, "axis": {"orient": "top", "title": null, "labels": false, "domain": false, "tickSize": 5, "encode": {"ticks": {"update": {"y2": {"value": 5}}}}, "zindex": 1}},
     "y": {"field": "v", "type": "quantitative", "scale": {"type": "log", "domain": [0.01, 190], "nice": false}, "axis": {"orient": "right", "title": null, "labels": false, "domain": false, "values": [0.01,0.02,0.03,0.04,0.05,0.06,0.07,0.08,0.09,0.1,0.2,0.3,0.4,0.5,0.6,0.7,0.8,0.9,1,2,3,4,5,6,7,8,9,10,20,30,40,50,60,70,80,90,100], "encode": {"ticks": {"update": {"x2": {"signal": "indexof([0.01,0.1,1,10,100], datum.value) >= 0 ? -7 : -4"}}}}, "zindex": 1}},
     "detail": {"field": "g"}, "order": {"value": null}}},
   {"data": {"name": "C_lines"}, "transform": [{"filter": "datum.o == 'high'"}], "mark": {"type": "line", "color": "#262626", "strokeWidth": 3, "clip": true}, "encoding": {"detail": {"field": "g"}, "order": {"value": null}}},
   {"data": {"name": "C_ann"}, "transform": [{"filter": "datum.k == 'letter'"}], "mark": {"type": "text", "fontSize": 30, "dx": 6, "align": "center", "baseline": "middle"}, "encoding": {"text": {"field": "t"}}},
   {"data": {"name": "C_ann"}, "transform": [{"filter": "datum.k == 'title'"}], "mark": {"type": "text", "fontSize": 15.5, "align": "center", "baseline": "middle"}, "encoding": {"text": {"field": "t"}}},
   {"data": {"name": "C_ann"}, "transform": [{"filter": "datum.k == 'group'"}], "mark": {"type": "text", "fontSize": 32, "dx": -5, "align": "center", "baseline": "middle"}, "encoding": {"text": {"field": "t"}}},
   {"data": {"name": "C_ann"}, "transform": [{"filter": "datum.k == 'label'"}], "mark": {"type": "text", "fontSize": 15.5, "dx": 9, "align": "center", "baseline": "middle"}, "encoding": {"text": {"field": "t"}}},
   {"data": {"name": "C_ann"}, "transform": [{"filter": "datum.k == 'shaftD'"}], "mark": {"type": "rule", "color": "#000", "strokeWidth": 2, "xOffset": -4}, "encoding": {"y2": {"field": "v2"}}},
   {"data": {"name": "C_ann"}, "transform": [{"filter": "datum.k == 'headD'"}], "mark": {"type": "point", "shape": "M-1,-1.3L0,0L1,-1.3", "size": 100, "filled": false, "stroke": "#000", "strokeWidth": 2, "opacity": 1, "xOffset": -4}, "encoding": {}},
   {"data": {"name": "C_ann"}, "transform": [{"filter": "datum.k == 'shaftU'"}], "mark": {"type": "rule", "color": "#000", "strokeWidth": 2, "xOffset": -6}, "encoding": {"y2": {"field": "v2"}}},
   {"data": {"name": "C_ann"}, "transform": [{"filter": "datum.k == 'headU'"}], "mark": {"type": "point", "shape": "M-1,1.3L0,0L1,1.3", "size": 100, "filled": false, "stroke": "#000", "strokeWidth": 2, "opacity": 1, "xOffset": -6}, "encoding": {}}
  ],
  "resolve": {"axis": {"x": "independent", "y": "independent"}}
 },
 {
  "width": 484, "height": 345,
  "encoding": {
   "x": {"field": "el", "type": "ordinal", "scale": {"type": "point", "domain": ["Ba","U","Th","Nb","Ta","La","Ce","Sr","Pr","Nd","Zr","Sm","Eu","Ti","Gd","Tb","Dy","Ho","Y","Er","Tm","Yb","Lu"], "padding": 0.8}, "axis": null},
   "y": {"field": "v", "type": "quantitative", "scale": {"type": "log", "domain": [0.01, 190], "nice": false}, "axis": null}
  },
  "layer": [
   {"data": {"name": "D_bands"}, "transform": [{"filter": "datum.g == 'C1'"}], "mark": {"type": "area", "color": "#5b5b5b", "clip": true, "opacity": 1},
    "encoding": {
     "x": {"field": "el", "type": "ordinal", "scale": {"type": "point", "domain": ["Ba","U","Th","Nb","Ta","La","Ce","Sr","Pr","Nd","Zr","Sm","Eu","Ti","Gd","Tb","Dy","Ho","Y","Er","Tm","Yb","Lu"], "padding": 0.8}, "axis": {"orient": "bottom", "title": null, "labelAngle": 0, "labelFontSize": 18, "labelExpr": "indexof(['U','Nb','La','Sr','Nd','Sm','Ti','Tb','Ho','Er','Yb'], datum.value) >= 0 ? ['', datum.value] : datum.value", "labelLineHeight": 18, "labelPadding": 1, "tickSize": 5, "labelOverlap": false, "zindex": 1}},
     "y": {"field": "v", "type": "quantitative", "scale": {"type": "log", "domain": [0.01, 190], "nice": false}, "axis": {"orient": "left", "title": "Primitive Mantle Normalized", "values": [0.01,0.02,0.03,0.04,0.05,0.06,0.07,0.08,0.09,0.1,0.2,0.3,0.4,0.5,0.6,0.7,0.8,0.9,1,2,3,4,5,6,7,8,9,10,20,30,40,50,60,70,80,90,100], "labelExpr": "indexof([0.01,0.1,1,10,100], datum.value) >= 0 ? '' + datum.value : ''", "tickSize": 9, "labelPadding": 9, "labelOverlap": false, "labelFlush": false, "titlePadding": 12, "encode": {"ticks": {"update": {"x2": {"signal": "indexof([0.01,0.1,1,10,100], datum.value) >= 0 ? -9 : -6"}}}}, "zindex": 1}},
     "y2": {"field": "lo"}, "detail": {"field": "g"}, "order": {"value": null}}},
   {"data": {"name": "D_bands"}, "transform": [{"filter": "datum.g == 'C2'"}], "mark": {"type": "area", "color": "#9d9d9d", "clip": true, "opacity": 1},
    "encoding": {
     "x": {"field": "el", "type": "ordinal", "scale": {"type": "point", "domain": ["Ba","U","Th","Nb","Ta","La","Ce","Sr","Pr","Nd","Zr","Sm","Eu","Ti","Gd","Tb","Dy","Ho","Y","Er","Tm","Yb","Lu"], "padding": 0.8}, "axis": {"orient": "top", "title": null, "labels": false, "domain": false, "tickSize": 5, "encode": {"ticks": {"update": {"y2": {"value": 5}}}}, "zindex": 1}},
     "y": {"field": "v", "type": "quantitative", "scale": {"type": "log", "domain": [0.01, 190], "nice": false}, "axis": {"orient": "right", "title": null, "labels": false, "domain": false, "values": [0.01,0.02,0.03,0.04,0.05,0.06,0.07,0.08,0.09,0.1,0.2,0.3,0.4,0.5,0.6,0.7,0.8,0.9,1,2,3,4,5,6,7,8,9,10,20,30,40,50,60,70,80,90,100], "encode": {"ticks": {"update": {"x2": {"signal": "indexof([0.01,0.1,1,10,100], datum.value) >= 0 ? -7 : -4"}}}}, "zindex": 1}},
     "y2": {"field": "lo"}, "detail": {"field": "g"}, "order": {"value": null}}},
   {"data": {"name": "D_bands"}, "transform": [{"filter": "datum.g == 'C1a' || datum.g == 'C1b'"}], "mark": {"type": "area", "color": "#6a6a6a", "clip": true, "opacity": 1}, "encoding": {"y2": {"field": "lo"}, "detail": {"field": "g"}, "order": {"value": null}}},
   {"data": {"name": "D_lines"}, "transform": [{"filter": "datum.o == 'mantle'"}], "mark": {"type": "line", "color": "#d0d0d0", "strokeWidth": 5, "clip": true}, "encoding": {"detail": {"field": "g"}, "order": {"value": null}}},
   {"data": {"name": "D_lines"}, "transform": [{"filter": "datum.o == 'high'"}], "mark": {"type": "line", "color": "#2b2b2b", "strokeWidth": 4.5, "clip": true}, "encoding": {"detail": {"field": "g"}, "order": {"value": null}}},
   {"data": {"name": "D_ann"}, "transform": [{"filter": "datum.k == 'letter'"}], "mark": {"type": "text", "fontSize": 30, "dx": 8, "align": "center", "baseline": "middle"}, "encoding": {"text": {"field": "t"}}},
   {"data": {"name": "D_ann"}, "transform": [{"filter": "datum.k == 'title'"}], "mark": {"type": "text", "fontSize": 15.5, "dx": 4, "align": "center", "baseline": "middle"}, "encoding": {"text": {"field": "t"}}},
   {"data": {"name": "D_ann"}, "transform": [{"filter": "datum.k == 'group'"}], "mark": {"type": "text", "fontSize": 32, "dx": -7, "align": "center", "baseline": "middle"}, "encoding": {"text": {"field": "t"}}},
   {"data": {"name": "D_ann"}, "transform": [{"filter": "datum.k == 'labelC1'"}], "mark": {"type": "text", "fontSize": 15.5, "dx": -14, "align": "center", "baseline": "middle"}, "encoding": {"text": {"field": "t"}}},
   {"data": {"name": "D_ann"}, "transform": [{"filter": "datum.k == 'labelC2'"}], "mark": {"type": "text", "fontSize": 15.5, "dx": -12, "align": "center", "baseline": "middle"}, "encoding": {"text": {"field": "t"}}},
   {"data": {"name": "D_ann"}, "transform": [{"filter": "datum.k == 'shaftD'"}], "mark": {"type": "rule", "color": "#000", "strokeWidth": 2, "xOffset": -6}, "encoding": {"y2": {"field": "v2"}}},
   {"data": {"name": "D_ann"}, "transform": [{"filter": "datum.k == 'headD'"}], "mark": {"type": "point", "shape": "M-1,-1.3L0,0L1,-1.3", "size": 100, "filled": false, "stroke": "#000", "strokeWidth": 2, "opacity": 1, "xOffset": -6}, "encoding": {}},
   {"data": {"name": "D_ann"}, "transform": [{"filter": "datum.k == 'shaftU'"}], "mark": {"type": "rule", "color": "#000", "strokeWidth": 2, "xOffset": -2}, "encoding": {"y2": {"field": "v2"}}},
   {"data": {"name": "D_ann"}, "transform": [{"filter": "datum.k == 'headU'"}], "mark": {"type": "point", "shape": "M-1,1.3L0,0L1,1.3", "size": 100, "filled": false, "stroke": "#000", "strokeWidth": 2, "opacity": 1, "xOffset": -2}, "encoding": {}}
  ],
  "resolve": {"axis": {"x": "independent", "y": "independent"}}
 }
]
}
